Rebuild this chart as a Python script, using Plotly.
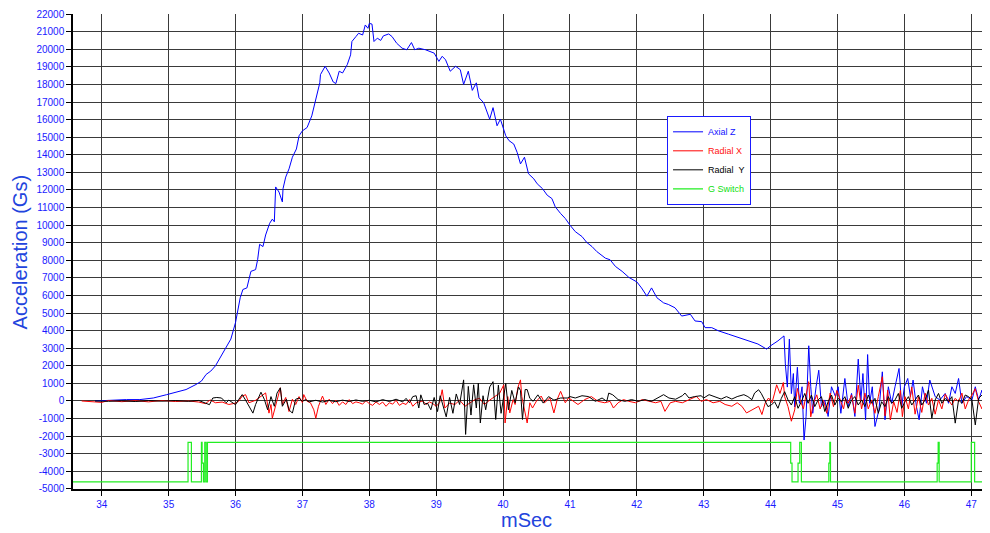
import plotly.graph_objects as go

# ---------------- data ----------------
axial_t = [33.90, 34.06, 34.20, 34.37, 34.57, 34.77, 34.97, 35.11, 35.26, 35.41, 35.49, 35.56, 35.63, 35.70,
           35.78, 35.85, 35.93, 36.00, 36.07, 36.11, 36.17, 36.23, 36.30, 36.33, 36.36, 36.41, 36.45, 36.51,
           36.55, 36.58, 36.60, 36.65, 36.70, 36.71, 36.75, 36.80, 36.85, 36.91, 36.95, 37.00, 37.07, 37.14,
           37.19, 37.22, 37.26, 37.27, 37.34, 37.40, 37.46, 37.50, 37.55, 37.60, 37.67, 37.72, 37.74, 37.80,
           37.84, 37.90, 37.94, 37.98, 38.00, 38.04, 38.07, 38.12, 38.17, 38.21, 38.29, 38.34, 38.41, 38.49,
           38.56, 38.63, 38.68, 38.74, 38.84, 38.97, 39.04, 39.09, 39.14, 39.21, 39.29, 39.36, 39.41, 39.48,
           39.54, 39.60, 39.64, 39.71, 39.80, 39.85, 39.91, 39.96, 40.01, 40.04, 40.09, 40.16, 40.21, 40.26,
           40.32, 40.38, 40.46, 40.51, 40.59, 40.66, 40.73, 40.78, 40.86, 40.93, 41.00, 41.08, 41.18, 41.25,
           41.33, 41.40, 41.53, 41.60, 41.68, 41.78, 41.88, 42.00, 42.07, 42.15, 42.22, 42.30, 42.40, 42.47,
           42.57, 42.67, 42.80, 42.87, 42.97, 43.02, 43.12, 43.22, 43.37, 43.52, 43.66, 43.81, 43.94, 44.00,
           44.11, 44.20, 44.22, 44.25, 44.28, 44.31, 44.34, 44.36, 44.40, 44.43, 44.47, 44.50, 44.53, 44.57,
           44.60, 44.63, 44.68, 44.72, 44.76, 44.81, 44.86, 44.91, 44.97, 45.01, 45.05, 45.11, 45.16, 45.21,
           45.26, 45.31, 45.35, 45.38, 45.42, 45.45, 45.48, 45.52, 45.56, 45.62, 45.67, 45.71, 45.76, 45.81,
           45.86, 45.92, 45.96, 46.00, 46.05, 46.09, 46.13, 46.18, 46.22, 46.27, 46.33, 46.38, 46.46, 46.53,
           46.61, 46.66, 46.71, 46.76, 46.81, 46.86, 46.93, 47.01, 47.06, 47.11, 47.16, 47.23]
axial_z = [0, 40, 60, 80, 80, 170, 360, 500, 650, 940, 1130, 1510, 1700, 2000,
           2500, 3000, 3520, 4460, 5870, 6340, 6430, 7370, 7470, 8030, 8910, 8780, 9440, 10100,
           10340, 10190, 12170, 11880, 11320, 12070, 12730, 13200, 13860, 14330, 15080, 15360, 15550, 16210,
           16960, 17430, 18090, 18560, 19030, 18650, 18140, 18050, 18750, 18650, 19120, 19680, 20440, 20720,
           20910, 20810, 21380, 21190, 21470, 21430, 20440, 20630, 20500, 20760, 20870, 20720, 20340, 20060,
           19970, 20380, 19970, 20060, 19970, 19780, 19310, 19600, 19400, 18750, 19030, 18840, 18000, 18750,
           17660, 18090, 17240, 16960, 16020, 16680, 15650, 16020, 15460, 15080, 14800, 14610, 14140, 13480,
           13860, 12920, 12630, 12350, 12070, 11700, 11510, 11040, 10660, 10380, 10000, 9630, 9350, 9020,
           8780, 8500, 8120, 8030, 7650, 7370, 7030, 6770, 6430, 5960, 6430, 5870, 5580, 5490,
           5300, 4830, 4930, 4550, 4510, 4170, 4170, 3990, 3800, 3610, 3420, 3240, 2950, 3140,
           3420, 3700, 2110, 790, 3520, 420, 1560, -340, 1920, -130, 810, -2220, -880, 3140,
           810, -700, 810, 1750, -320, 60, -880, 810, 250, 810, -700, 1280, -320, 430,
           -880, 2380, 60, 1560, -1070, 2640, -130, 810, -1450, -500, 1660, -1070, 810, -130,
           810, 1850, -320, 810, 1280, 250, 1190, -320, -1070, 810, -130, 1190, 250, 60,
           430, -130, 810, 430, 1280, -130, 250, 60, 810, 60, 620, -1070]

radial_x_t = [33.70, 33.85, 34.00, 34.10, 34.30, 34.50, 34.70, 34.90, 35.10, 35.30, 35.45, 35.55, 35.62, 35.70,
              35.80, 35.90, 36.00, 36.05, 36.10, 36.15, 36.20, 36.30, 36.40, 36.45, 36.50, 36.53, 36.55, 36.60,
              36.65, 36.67, 36.70, 36.75, 36.80, 36.85, 36.90, 36.95, 37.00, 37.02, 37.07, 37.12, 37.17, 37.20,
              37.24, 37.30, 37.35, 37.40, 37.45, 37.50, 37.55, 37.60, 37.65, 37.70, 37.75, 37.80, 37.85, 37.90,
              37.95, 38.00, 38.05, 38.10, 38.15, 38.20, 38.25, 38.30, 38.35, 38.40, 38.45, 38.50, 38.55, 38.60,
              38.65, 38.70, 38.75, 38.80, 38.85, 38.90, 38.95, 39.00, 39.05, 39.09, 39.13, 39.20, 39.28, 39.35,
              39.43, 39.50, 39.58, 39.65, 39.72, 39.80, 39.88, 39.95, 40.01, 40.03, 40.07, 40.10, 40.15, 40.18,
              40.22, 40.26, 40.28, 40.32, 40.36, 40.40, 40.44, 40.50, 40.57, 40.62, 40.70, 40.76, 40.81, 40.86,
              40.93, 40.98, 41.02, 41.12, 41.22, 41.32, 41.42, 41.52, 41.60, 41.65, 41.72, 41.80, 41.88, 41.98,
              42.08, 42.18, 42.28, 42.36, 42.42, 42.50, 42.58, 42.68, 42.78, 42.89, 42.96, 43.04, 43.14, 43.24,
              43.32, 43.42, 43.50, 43.57, 43.64, 43.72, 43.82, 43.87, 43.92, 43.97, 44.02, 44.06, 44.09, 44.14,
              44.19, 44.21, 44.26, 44.31, 44.36, 44.40, 44.44, 44.49, 44.54, 44.57, 44.60, 44.64, 44.69, 44.74,
              44.79, 44.84, 44.89, 44.94, 44.99, 45.04, 45.09, 45.12, 45.16, 45.21, 45.26, 45.31, 45.36, 45.41,
              45.46, 45.51, 45.56, 45.61, 45.67, 45.71, 45.75, 45.79, 45.84, 45.89, 45.94, 45.97, 46.01, 46.06,
              46.11, 46.16, 46.21, 46.26, 46.31, 46.36, 46.41, 46.46, 46.51, 46.56, 46.61, 46.66, 46.71, 46.76,
              46.81, 46.86, 46.91, 46.96, 47.01, 47.06, 47.11, 47.16, 47.21, 47.26]
radial_x = [0, -60, -80, 30, -40, 20, -50, 30, -30, 0, -60, -150, 60, -100,
            -60, -200, -120, 0, 280, 360, -100, 40, 300, 460, -690, -200, -980, -300,
            450, 750, -200, 200, -600, 100, -200, 250, -100, 365, -20, -100, -500, -980,
            -300, 280, -200, 100, -150, 50, -250, -50, -200, 80, -150, -50, -100, -180,
            20, -150, -250, -50, -200, -60, -300, -100, -180, 40, -250, -120, -200, 80,
            -300, -100, -50, 0, -200, -50, -150, -300, -100, 640, -400, -120, -200, 50,
            -300, -100, 80, 150, -200, 50, 250, 450, 920, -1250, 250, -680, 80, -200,
            750, 1200, 250, -500, -1250, -100, -400, 0, 280, -100, 180, -680, 100, 550,
            -100, 180, 80, -200, 80, 250, -20, -100, -20, -400, -100, 80, -20, -100,
            80, -20, -100, -20, -590, -100, -20, -100, 80, 260, -20, 80, -100, -20,
            -200, -300, -100, -300, -680, -500, -300, -770, -100, 170, -100, 450, 920, 430,
            1050, 245, -320, -1150, -510, 720, 60, -450, 600, 1100, -900, -130, 350, -450,
            60, -700, 450, -320, 600, 60, -450, 150, -130, 345, -700, 900, -450, 450,
            -450, 60, -700, 245, 1380, -850, 620, -1080, -40, -650, 600, -890, 245, -450,
            800, -750, 245, -650, 450, -230, 150, -750, 60, -450, 400, 60, -230, 150,
            -40, 450, -450, 60, 340, 700, -40, -450, 60, 245]

radial_y_t = [33.90, 34.10, 34.30, 34.50, 34.70, 34.90, 35.10, 35.30, 35.45, 35.55, 35.61, 35.66, 35.72, 35.79,
              35.86, 35.90, 35.95, 36.00, 36.05, 36.10, 36.15, 36.20, 36.26, 36.30, 36.38, 36.43, 36.48, 36.53,
              36.58, 36.62, 36.67, 36.70, 36.76, 36.80, 36.85, 36.90, 36.95, 37.00, 37.05, 37.10, 37.20, 37.30,
              37.40, 37.50, 37.60, 37.70, 37.80, 37.90, 38.00, 38.10, 38.20, 38.30, 38.40, 38.50, 38.55, 38.60,
              38.65, 38.70, 38.74, 38.77, 38.82, 38.87, 38.92, 38.97, 39.02, 39.06, 39.10, 39.15, 39.20, 39.25,
              39.30, 39.35, 39.41, 39.44, 39.48, 39.52, 39.56, 39.60, 39.63, 39.66, 39.70, 39.74, 39.80, 39.85,
              39.89, 39.93, 39.97, 40.01, 40.04, 40.08, 40.13, 40.18, 40.23, 40.26, 40.29, 40.33, 40.36, 40.40,
              40.45, 40.52, 40.60, 40.68, 40.76, 40.86, 40.96, 41.00, 41.08, 41.18, 41.28, 41.38, 41.48, 41.55,
              41.58, 41.64, 41.72, 41.82, 41.92, 42.02, 42.12, 42.22, 42.32, 42.40, 42.48, 42.58, 42.68, 42.72,
              42.78, 42.86, 42.96, 43.00, 43.08, 43.16, 43.26, 43.34, 43.42, 43.50, 43.60, 43.66, 43.72, 43.76,
              43.82, 43.86, 43.91, 43.96, 44.01, 44.06, 44.11, 44.16, 44.21, 44.26, 44.31, 44.36, 44.41, 44.46,
              44.51, 44.56, 44.61, 44.66, 44.71, 44.76, 44.81, 44.86, 44.91, 44.96, 45.01, 45.06, 45.11, 45.16,
              45.21, 45.26, 45.31, 45.36, 45.41, 45.46, 45.51, 45.56, 45.61, 45.66, 45.71, 45.76, 45.81, 45.86,
              45.91, 45.96, 46.01, 46.06, 46.11, 46.16, 46.21, 46.26, 46.31, 46.36, 46.41, 46.46, 46.51, 46.56,
              46.61, 46.66, 46.71, 46.76, 46.81, 46.86, 46.91, 46.96, 47.01, 47.06, 47.11, 47.16, 47.21, 47.26]
radial_y = [0, -20, 10, -30, 20, -10, 20, -20, 30, -100, -210, 170, 200, 170,
            -100, 50, -100, -210, 100, 365, 50, -300, -690, -200, 500, 100, -500, 250,
            -300, 450, 750, -300, 100, -500, -690, 100, 170, -20, 80, -50, 40, -60,
            30, -40, 50, -30, 60, -20, 40, -50, 80, -30, 100, -50, 150, -100,
            250, 300, -400, 350, -200, -120, -500, 200, -600, 300, -200, -900, 200, -700,
            400, -200, 1200, -1900, 830, -800, 920, -400, 1020, -1250, 300, -500, 800, 1100,
            -1050, 900, -700, 450, 1000, -500, 600, -100, 800, 600, -1050, 650, 650, 150,
            -20, 350, -120, 250, 50, 170, 170, 250, 170, 300, 250, -20, 170, -20,
            450, 350, 80, -20, 80, -20, 80, -20, 170, 360, 170, 100, 300, 450,
            170, 250, 300, 170, 360, 250, 110, 250, 110, 250, 360, 250, 75, 450,
            640, 430, 60, -320, -230, -40, -415, 150, 530, 60, -230, 245, -415, -40,
            430, -130, 340, -320, 60, 245, -600, -40, 340, -230, 150, -40, 245, -415,
            60, 245, -230, 60, -320, 340, -130, 150, -700, -40, -320, 245, -130, 60,
            430, -415, -40, 245, -230, 60, 340, -230, 60, 620, -980, 60, 430, -130,
            150, -40, 245, -1260, 60, -130, 340, 245, 60, -1360, 150, 340, 430, 60]

g_switch_t = [33.57, 35.29, 35.34, 35.49, 35.50, 35.52, 35.54, 35.56, 35.58, 44.30, 44.32, 44.41, 44.435,
              44.46, 44.87, 44.885, 44.895, 46.49, 46.505, 46.52, 47.00, 47.05, 47.30]
g_switch = [-4600, -2350, -4600, -2350, -3530, -4600, -2350, -4600, -2350, -3530, -4600, -3530, -2350,
            -4600, -3530, -2350, -4600, -3530, -2350, -4600, -2350, -4600, -4600]

x_ticks = [34, 35, 36, 37, 38, 39, 40, 41, 42, 43, 44, 45, 46, 47]
y_ticks = list(range(-5000, 22001, 1000))
y_tick_labels = [str(v) for v in y_ticks]

# ---------------- figure ----------------
fig = go.Figure()
fig.add_trace(go.Scatter(x=axial_t, y=axial_z, mode="lines",
                         name="<span style='color:#1010ff'>Axial Z</span>",
                         line=dict(color="#0000ff", width=1)))
fig.add_trace(go.Scatter(x=radial_x_t, y=radial_x, mode="lines",
                         name="<span style='color:#ff1010'>Radial X</span>",
                         line=dict(color="#ff0000", width=1)))
fig.add_trace(go.Scatter(x=radial_y_t, y=radial_y, mode="lines",
                         name="<span style='color:#000000'>Radial  Y</span>",
                         line=dict(color="#000000", width=1)))
fig.add_trace(go.Scatter(x=g_switch_t, y=g_switch, mode="lines", line_shape="hv",
                         name="<span style='color:#10e010'>G Switch</span>",
                         line=dict(color="#22ee22", width=1.2)))

tick_font = dict(family="Arial, Liberation Sans, sans-serif", size=10, color="#1a1aff")
fig.update_xaxes(range=[33.57, 47.25], tickvals=x_ticks, showgrid=True, gridcolor="#3a3a3a",
                 gridwidth=1.4, zeroline=False, showline=True, linecolor="#000", linewidth=1.5,
                 ticks="outside", ticklen=5, tickcolor="#000", tickfont=tick_font, automargin=False)
fig.update_yaxes(range=[-5004, 22004], tickvals=y_ticks, ticktext=y_tick_labels, showgrid=True,
                 gridcolor="#3a3a3a", gridwidth=1.4, zeroline=False, showline=True, linecolor="#000",
                 linewidth=1.5, ticks="outside", ticklen=5, tickcolor="#000", tickfont=tick_font,
                 automargin=False, ticklabeloverflow="allow")

# The page body has an 8px default margin, so the figure is sized/offset to compensate.
fig.update_layout(
    width=982, height=525,
    margin=dict(l=65, r=2, t=6, b=44),
    paper_bgcolor="white", plot_bgcolor="white",
    showlegend=True,
    legend=dict(x=0.649, y=0.785, xanchor="left", yanchor="top",
                bgcolor="white", bordercolor="#1a1aff", borderwidth=1.2,
                font=dict(family="Arial, Liberation Sans, sans-serif", size=9),
                itemwidth=30, tracegroupgap=0),
    annotations=[
        dict(text="Acceleration (Gs)", xref="paper", yref="paper", x=-0.058, y=0.5,
             textangle=-90, showarrow=False, xanchor="center", yanchor="middle",
             font=dict(family="Arial, Liberation Sans, sans-serif", size=20, color="#2244dd")),
        dict(text="mSec", xref="paper", yref="paper", x=0.496, y=-0.066,
             showarrow=False, xanchor="center", yanchor="middle",
             font=dict(family="Arial, Liberation Sans, sans-serif", size=20, color="#2244dd")),
    ],
)

fig.write_html("out.html")
